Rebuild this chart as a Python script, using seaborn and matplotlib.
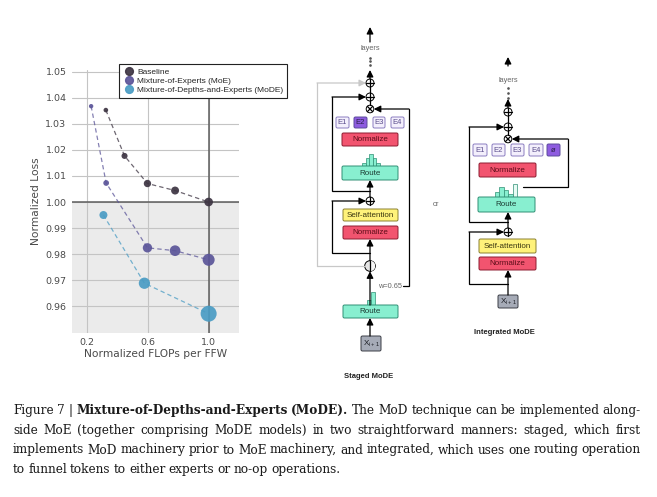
import matplotlib
matplotlib.use("Agg")
import matplotlib.pyplot as plt
import numpy as np
import pandas as pd
import seaborn as sns
from matplotlib.lines import Line2D
from matplotlib.patches import Circle, FancyBboxPatch, Rectangle

# chart data
SERIES = ["Baseline", "Mixture-of-Experts (MoE)", "Mixture-of-Depths-and-Experts (MoDE)"]
COLORS = ["#3d3442", "#5b5599", "#4a9cc4"]

BASELINE_FLOPS = [0.323, 0.446, 0.597, 0.779, 1.0]
BASELINE_LOSS = [1.0353, 1.0177, 1.0071, 1.0044, 1.0]
BASELINE_SIZE = [11, 19, 28, 33, 39]

MOE_FLOPS = [0.226, 0.325, 0.597, 0.779, 1.0]
MOE_LOSS = [1.0368, 1.0073, 0.9824, 0.9813, 0.9778]
MOE_SIZE = [10, 17, 45, 59, 75]

MODE_FLOPS = [0.307, 0.577, 1.0]
MODE_LOSS = [0.995, 0.9688, 0.9571]
MODE_SIZE = [33, 66, 133]

X_TICKS = [0.2, 0.6, 1.0]
Y_TICKS = [0.96, 0.97, 0.98, 0.99, 1.00, 1.01, 1.02, 1.03, 1.04, 1.05]

CAPTION = [
    [("Figure", 0), ("7", 0), ("|", 0), ("Mixture-of-Depths-and-Experts", 1), ("(MoDE).", 1),
     ("The", 0), ("MoD", 0), ("technique", 0), ("can", 0), ("be", 0), ("implemented", 0), ("along-", 0)],
    [(w, 0) for w in "side MoE (together comprising MoDE models) in two straightforward manners: staged, which first".split()],
    [(w, 0) for w in "implements MoD machinery prior to MoE machinery, and integrated, which uses one routing operation".split()],
    [(w, 0) for w in "to funnel tokens to either experts or no-op operations.".split()],
]

df = pd.concat([
    pd.DataFrame({"flops": BASELINE_FLOPS, "loss": BASELINE_LOSS, "size": BASELINE_SIZE, "model": SERIES[0]}),
    pd.DataFrame({"flops": MOE_FLOPS, "loss": MOE_LOSS, "size": MOE_SIZE, "model": SERIES[1]}),
    pd.DataFrame({"flops": MODE_FLOPS, "loss": MODE_LOSS, "size": MODE_SIZE, "model": SERIES[2]}),
], ignore_index=True)

sns.set_theme(style="whitegrid")
plt.rcParams["font.family"] = ["DejaVu Sans"]

fig = plt.figure(figsize=(6.57, 4.97), dpi=100)
palette = dict(zip(SERIES, COLORS))

# ---- scatter chart ----
ax = fig.add_axes([72 / 657, (497 - 332.7) / 497, (239 - 72) / 657, (332.7 - 70) / 497])
ax.axhspan(0.9, 1.0, color="#ebebeb", zorder=0, lw=0)
ax.grid(True, color="#c4c4c4", lw=0.8)
ax.axhline(1.0, color="#5e5e5e", lw=1.1, zorder=1)
ax.axvline(1.0, color="#5e5e5e", lw=1.1, zorder=1)

sns.lineplot(data=df, x="flops", y="loss", hue="model", palette=palette, estimator=None,
             linestyle=(0, (3.5, 2.5)), lw=0.9, alpha=0.75, legend=False, ax=ax, zorder=3)
smin, smax = min(df["size"]), max(df["size"])
sns.scatterplot(data=df, x="flops", y="loss", hue="model", palette=palette, size="size",
                sizes=(smin, smax), size_norm=(smin, smax), alpha=0.92, linewidth=0,
                legend=False, ax=ax, zorder=4)

ax.set_xlim(0.1, 1.2)
ax.set_ylim(0.9498, 1.0507)
ax.set_xticks(X_TICKS)
ax.set_xticklabels([f"{v:.1f}" for v in X_TICKS])
ax.set_yticks(Y_TICKS)
ax.set_yticklabels([f"{v:.2f}" for v in Y_TICKS])
ax.tick_params(axis="both", length=0, labelsize=6.8, labelcolor="#4a4a4a", pad=4)
ax.set_xlabel("Normalized FLOPs per FFW", fontsize=7.7, color="#4a4a4a", labelpad=1)
ax.set_ylabel("Normalized Loss", fontsize=7.7, color="#4a4a4a", labelpad=3)
for sp in ax.spines.values():
    sp.set_visible(False)

handles = [Line2D([], [], ls="", marker="o", ms=5.6, color=c, alpha=0.92) for c in COLORS]
leg = ax.legend(handles, SERIES, loc="upper left", bbox_to_anchor=(119 / 657, 1 - 64 / 497),
                bbox_transform=fig.transFigure, prop={"family": "Liberation Sans", "size": 6.0},
                frameon=True, fancybox=False, framealpha=1, edgecolor="#222222",
                borderpad=0.45, labelspacing=0.15, handletextpad=0.2, handlelength=1.5,
                borderaxespad=0)
leg.get_frame().set_linewidth(0.8)
leg.set_zorder(10)

# ---- schematic diagrams (pixel coordinates) ----
dx = fig.add_axes([0, 0, 1, 1])
dx.set_xlim(0, 657)
dx.set_ylim(497, 0)
dx.axis("off")
dx.patch.set_visible(False)

SANS = "Liberation Sans"


def box(x0, y0, x1, y1, face, edge, text=None, tcolor="black", fs=5.8):
    dx.add_patch(FancyBboxPatch((x0, y0), x1 - x0, y1 - y0, boxstyle="round,pad=0,rounding_size=1.5",
                                fc=face, ec=edge, lw=0.7))
    if text:
        dx.text((x0 + x1) / 2, (y0 + y1) / 2 + 0.3, text, ha="center", va="center",
                fontsize=fs, color=tcolor, family=SANS)


def arrow(x0, y0, x1, y1, color="black"):
    dx.annotate("", xy=(x1, y1), xytext=(x0, y0),
                arrowprops=dict(arrowstyle="-|>,head_length=0.4,head_width=0.2", color=color,
                                lw=0.9, shrinkA=0, shrinkB=0, mutation_scale=10))


def line(xs, ys, color="black"):
    dx.plot(xs, ys, color=color, lw=0.9, solid_joinstyle="miter")


def op(x, y, kind="+", r=4.0):
    dx.add_patch(Circle((x, y), r, fc="white", ec="black", lw=0.7))
    if kind == "+":
        line([x - r, x + r], [y, y])
        line([x, x], [y - r, y + r])
    else:
        d = r * 0.7
        line([x - d, x + d], [y - d, y + d])
        line([x - d, x + d], [y + d, y - d])


def dots(x, ys):
    dx.plot([x] * len(ys), ys, ls="", marker="o", ms=0.9, color="#555555")


def hist(x0, base, w, heights, faces):
    for i, (h, f) in enumerate(zip(heights, faces)):
        dx.add_patch(Rectangle((x0 + i * w, base - h), w, h, fc=f, ec="#2f8f74", lw=0.5))


def experts(y0, y1, spans, filled):
    labels = ["E1", "E2", "E3", "E4", "\u00f8"]
    for i, (a, b) in enumerate(spans):
        on = i in filled
        box(a, y0, b, y1, "#8e5ce0" if on else "#f3effc", "#5b4a9c" if on else "#8a7dc0",
            labels[i], "#2a1f4a" if on else "#5a4d8c", 5.5)


NORM = ("#f2546f", "#8d1c30", "#5c0d19")
ROUTE = ("#88efd0", "#2f8f74", "#1c3c33")
ATTN = ("#fff27a", "#8a8030", "#3a3610")
XBOX = ("#a6abb7", "#3a3d45", "#1a1c22")
MINT = "#88efd0"

# staged MoDE
c = 370
arrow(c, 42, c, 27)
dx.text(c, 49, "layers", ha="center", va="center", fontsize=5.3, color="#666666", family=SANS)
dots(c, [57.5, 61, 64.5])
arrow(c, 79, c, 70)
line([c, c], [87, 93])
line([c, c], [101, 105.2])
line([317, 317], [266, 83], "#c8c8c8")
arrow(317, 83, 366, 83, "#c8c8c8")
line([317, 364.7], [266, 266], "#c8c8c8")
line([c, 332, 332], [191, 191, 97])
arrow(332, 97, 366, 97)
line([403, 409, 409], [286, 286, 109])
arrow(409, 109, 373.8, 109)
op(c, 83)
op(c, 97)
op(c, 109, "x", 3.8)
experts(117, 128, [(336, 349), (354, 367), (373, 385), (391, 404)], [1])
box(342, 133, 398, 146, NORM[0], NORM[1], "Normalize", NORM[2])
hist(362, 166, 3.6, [3, 8, 12, 8, 3], [MINT] * 5)
box(342, 166, 398, 180, ROUTE[0], ROUTE[1], "Route", ROUTE[2])
arrow(c, 197, c, 180)
op(c, 201)
line([c, 332, 332], [253, 253, 201])
arrow(332, 201, 366, 201)
box(343, 209, 398, 221, ATTN[0], ATTN[1], "Self-attention", ATTN[2])
box(343, 226, 398, 239, NORM[0], NORM[1], "Normalize", NORM[2])
arrow(c, 260.7, c, 239)
dx.add_patch(Circle((c, 266), 5.3, fc="#e4e4e4", ec="black", lw=0.7))
dx.add_patch(Rectangle((c, 260.7), 5.3, 10.6, fc="#f7f7f7", ec="none",
                       clip_path=dx.patches[-1], clip_on=True))
line([c, c], [260.7, 271.3])
arrow(c, 305, c, 271.3)
dx.text(402, 286, "w=0.65", ha="right", va="center", fontsize=5.3, color="#666666", family=SANS)
hist(366.5, 305, 4.2, [5, 13], [MINT, MINT])
box(343, 305, 398, 318, ROUTE[0], ROUTE[1], "Route", ROUTE[2])
arrow(c, 336, c, 318)
box(361, 336, 381, 351, XBOX[0], XBOX[1], "X$_{\\mathregular{i+1}}$", XBOX[2])
dx.text(369, 376, "Staged MoDE", ha="center", va="center", fontsize=5.5, fontweight="bold",
        color="#222222", family=SANS)

dx.text(436, 205, "or", ha="center", va="center", fontsize=5.3, color="#666666", family=SANS)

# integrated MoDE
c = 508
arrow(c, 66, c, 57)
dx.text(c, 80, "layers", ha="center", va="center", fontsize=5.3, color="#666666", family=SANS)
dots(c, [88, 93, 98])
arrow(c, 108, c, 99)
line([c, c], [116, 123])
line([c, c], [131, 135.2])
line([c, 469, 469], [222, 222, 127])
arrow(469, 127, 504, 127)
line([523, 568, 568], [187, 187, 139])
arrow(568, 139, 511.8, 139)
op(c, 112)
op(c, 127)
op(c, 139, "x", 3.8)
experts(144, 156, [(473, 487), (492, 505), (511, 524), (529, 543), (547, 560)], [4])
box(479, 163, 536, 177, NORM[0], NORM[1], "Normalize", NORM[2])
hist(495, 197, 4.4, [5, 10, 7, 3, 13], [MINT, MINT, MINT, MINT, "#e6fbf4"])
box(478, 197, 535, 212, ROUTE[0], ROUTE[1], "Route", ROUTE[2])
arrow(c, 228, c, 212)
op(c, 232)
line([c, 469, 469], [284, 284, 232])
arrow(469, 232, 504, 232)
box(479, 239, 536, 253, ATTN[0], ATTN[1], "Self-attention", ATTN[2])
box(479, 257, 536, 270, NORM[0], NORM[1], "Normalize", NORM[2])
arrow(c, 295, c, 270)
box(498, 295, 518, 308, XBOX[0], XBOX[1], "X$_{\\mathregular{i+1}}$", XBOX[2])
dx.text(504, 332, "Integrated MoDE", ha="center", va="center", fontsize=5.5, fontweight="bold",
        color="#222222", family=SANS)

# ---- caption, justified word by word ----
renderer = fig.canvas.get_renderer()
SERIF = "DejaVu Serif"
LEFT, RIGHT = 13, 641


def measure(words, fs):
    out = []
    for w, bold in words:
        t = dx.text(0, 0, w, fontsize=fs, family=SERIF, fontweight="bold" if bold else "normal")
        out.append(t.get_window_extent(renderer).width)
        t.remove()
    return out


# pick the size at which the tightest line just fits with ordinary spaces
probe = 10.0
fit = []
for words in CAPTION[:-1]:
    total = sum(measure(words, probe))
    space = 0.26 * probe * 100 / 72
    fit.append(probe * (RIGHT - LEFT) / (total + space * (len(words) - 1)))
CAP_FS = min(fit)

baselines = [414, 434, 453.5, 473]
for li, (words, yb) in enumerate(zip(CAPTION, baselines)):
    widths = measure(words, CAP_FS)
    if li < len(CAPTION) - 1:
        gap = (RIGHT - LEFT - sum(widths)) / (len(words) - 1)
    else:
        gap = 0.26 * CAP_FS * 100 / 72
    x = LEFT
    for (w, bold), wd in zip(words, widths):
        dx.text(x, yb, w, fontsize=CAP_FS, family=SERIF, fontweight="bold" if bold else "normal",
                va="baseline", ha="left", color="#1a1a1a")
        x += wd + gap

fig.savefig("out.png", dpi=100)
